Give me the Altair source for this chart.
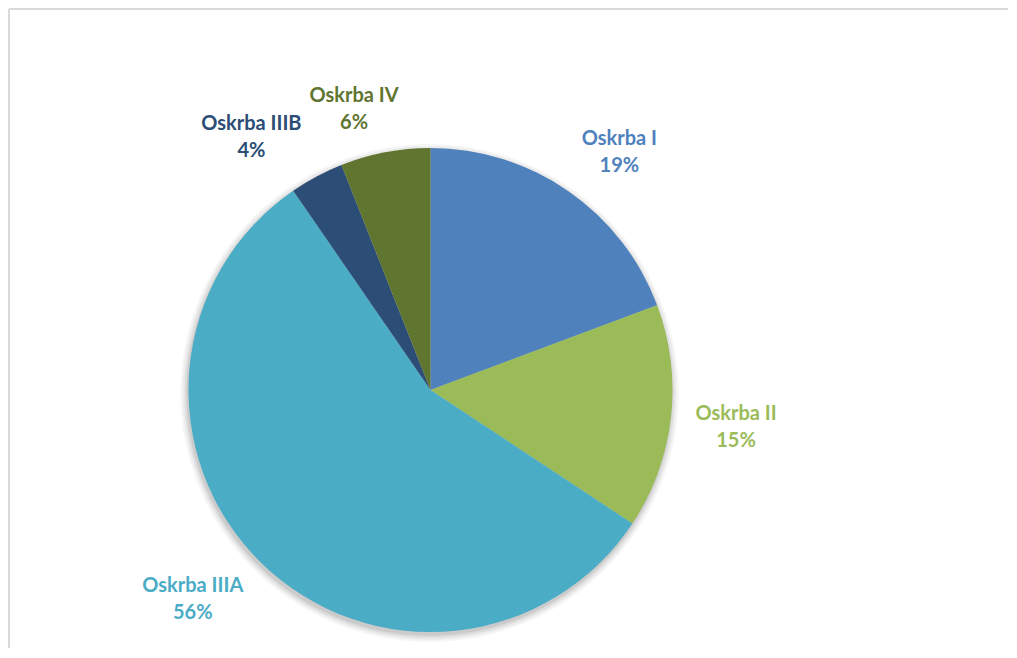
import math
import altair as alt
import pandas as pd

names = ["Oskrba I", "Oskrba II", "Oskrba IIIA", "Oskrba IIIB", "Oskrba IV"]
values = [19.3, 15.0, 56.1, 3.6, 6.0]
pct_labels = ["19%", "15%", "56%", "4%", "6%"]
colors = ["#4F81BD", "#9BBB59", "#4BACC6", "#2C4D75", "#5F7530"]

W, H = 1000, 640
CX, CY, R = 421.5, 381.0, 242
LABEL_GAP = 22
CHAR_W = 9.6
HALF_H = 21
LINE_H = 27
MIN_SEP = 6


def place(angle, half_w):
    # anchor on a circle just outside the pie, box pushed outward from it
    s, c = math.sin(angle), math.cos(angle)
    r0 = R + LABEL_GAP
    kx = min(1.0, abs(s) / 0.3)
    ky = min(1.0, abs(c) / 0.3)
    x = CX + r0 * s + math.copysign(half_w * kx, s)
    y = CY - r0 * c - math.copysign(HALF_H * ky, c)
    return x, y


def overlaps(a, b):
    return (abs(a[0] - b[0]) < a[2] + b[2] + MIN_SEP and
            abs(a[1] - b[1]) < 2 * HALF_H)


total = sum(values)
mids, halves = [], []
cum = 0.0
for n, v in zip(names, values):
    mids.append((cum + v / 2) / total * 2 * math.pi)
    halves.append(CHAR_W * len(n) / 2)
    cum += v

boxes = []
for i in range(len(names)):
    x, y = place(mids[i], halves[i])
    boxes.append([x, y, halves[i]])

for i in range(len(names) - 1, 0, -1):
    j = i - 1
    ang = mids[j]
    steps = 0
    while overlaps(boxes[j], boxes[i]) and steps < 60:
        ang -= math.radians(0.5)
        x, y = place(ang, halves[j])
        boxes[j] = [x, y, halves[j]]
        steps += 1

rows = []
for i, (n, v, p) in enumerate(zip(names, values, pct_labels)):
    rows.append({"idx": i, "name": n, "value": v, "label": n + "\n" + p,
                 "lx": boxes[i][0], "ly": boxes[i][1]})
df = pd.DataFrame(rows)

color_scale = alt.Scale(domain=names, range=colors)

one = pd.DataFrame({"k": [0]})
shadows = []
for rr, op in [(249, 0.035), (247, 0.045), (245, 0.06), (243, 0.08)]:
    shadows.append(
        alt.Chart(one).mark_arc(radius=rr, theta=0, theta2=6.2832, color="#000000",
                                opacity=op, strokeWidth=0)
        .encode(x=alt.value(CX - 1), y=alt.value(CY + 3))
    )

pie = alt.Chart(df).mark_arc(radius=R, strokeWidth=0).encode(
    theta=alt.Theta("value:Q", stack=True),
    color=alt.Color("name:N", scale=color_scale, legend=None),
    order=alt.Order("idx:Q"),
    x=alt.value(CX),
    y=alt.value(CY),
)

labels = alt.Chart(df).mark_text(
    font="Lato", fontSize=20, fontWeight="bold", lineBreak="\n",
    lineHeight=LINE_H, align="center", baseline="middle", dy=-LINE_H / 2,
).encode(
    x=alt.X("lx:Q", scale=None, axis=None),
    y=alt.Y("ly:Q", scale=None, axis=None),
    text="label:N",
    color=alt.Color("name:N", scale=color_scale, legend=None),
)

frame_top = alt.Chart(one).mark_rule(color="#D9D9D9", strokeWidth=2).encode(
    x=alt.value(0), x2=alt.value(W), y=alt.value(0))
frame_left = alt.Chart(one).mark_rule(color="#D9D9D9", strokeWidth=2).encode(
    x=alt.value(0), y=alt.value(0), y2=alt.value(H))

chart = alt.layer(*shadows, pie, labels, frame_top, frame_left).properties(
    width=W, height=H, padding=0, background="white",
    autosize=alt.AutoSizeParams(type="fit", contains="padding"),
).configure_view(stroke=None)

chart.save("out.html", embed_options={"renderer": "svg", "actions": False})
